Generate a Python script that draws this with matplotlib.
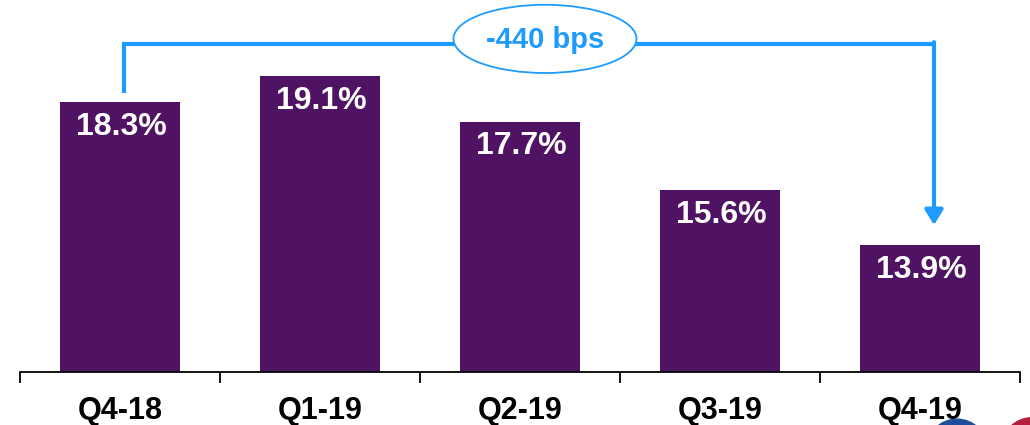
import matplotlib.pyplot as plt
from matplotlib.patches import Ellipse

quarters = ["Q4-18", "Q1-19", "Q2-19", "Q3-19", "Q4-19"]
margin_pct = [18.3, 19.1, 17.7, 15.6, 13.9]
change_label = "-440 bps"

BAR = "#501262"
BLUE = "#1E9BFF"

plt.rcParams["font.family"] = ["Liberation Sans", "DejaVu Sans"]
plt.rcParams["font.weight"] = "bold"

fig = plt.figure(figsize=(10.3, 4.25), dpi=100)
ax = fig.add_axes([20 / 1030, 53 / 425, 1000 / 1030, 372 / 425])

x = range(len(quarters))
ax.bar(x, margin_pct, width=0.6, bottom=0, color=BAR, zorder=2)
ax.set_xlim(-0.5, len(quarters) - 0.5)
ax.set_ylim(10, 10 + 372 / 32.5)

for i, v in enumerate(margin_pct):
    ax.annotate(f"{v}%", (i, v), xytext=(1, -7), textcoords="offset points",
                ha="center", va="top", color="white", fontsize=23,
                fontweight="bold", zorder=3)

# only the baseline with category separators
for side in ("left", "right", "top"):
    ax.spines[side].set_visible(False)
ax.spines["bottom"].set_linewidth(1.3)
ax.set_yticks([])
ax.set_xticks(list(x))
ax.set_xticklabels(quarters, fontsize=22, fontweight="bold")
ax.tick_params(axis="x", which="major", length=0, pad=17)
ax.set_xticks([i - 0.5 for i in range(len(quarters) + 1)], minor=True)
ax.tick_params(axis="x", which="minor", length=8, width=1.3, direction="out")

# bracket from first to last quarter
bracket_y = 20.1
x_left, x_right = 0.02, 4.07
ax.plot([x_left, x_left, x_right], [margin_pct[0] + 0.3, bracket_y, bracket_y],
        color=BLUE, lw=3, solid_joinstyle="miter", solid_capstyle="butt",
        clip_on=False, zorder=4)
ax.annotate("", xy=(x_right, margin_pct[-1] + 0.62), xytext=(x_right, bracket_y + 0.05),
            arrowprops=dict(arrowstyle="-|>,head_length=0.9,head_width=0.55",
                            color=BLUE, lw=3, shrinkA=0, shrinkB=0),
            zorder=4)

ax.add_patch(Ellipse((2.125, 20.25), 0.915, 2.1, facecolor="white",
                     edgecolor=BLUE, lw=1.3, zorder=5, clip_on=False))
ax.text(2.125, 20.2, change_label, ha="center", va="center", color=BLUE,
        fontsize=21, fontweight="bold", zorder=6)

# corner logo edge
fig.patches.append(Ellipse((957 / 1030, -25 / 425), 63 / 1030, 63 / 425,
                           transform=fig.transFigure, facecolor="#1F4E9A",
                           edgecolor="none"))
fig.patches.append(Ellipse((1032 / 1030, -23 / 425), 62 / 1030, 62 / 425,
                           transform=fig.transFigure, facecolor="#B3213F",
                           edgecolor="none"))

fig.savefig("out.png", dpi=100)
